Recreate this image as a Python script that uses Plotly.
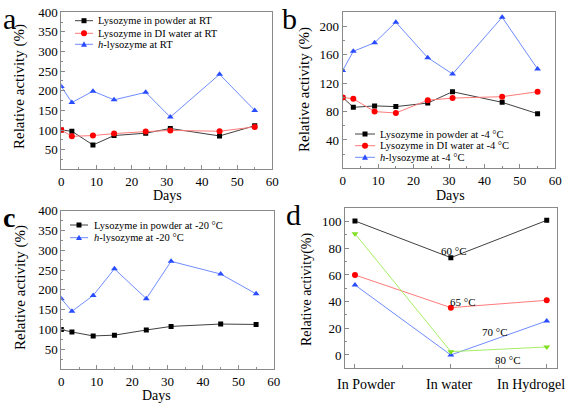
import plotly.graph_objects as go

W, H = 567, 404
SERIF = "'Liberation Serif', 'Times New Roman', Times, serif"

# ---------------- data ----------------
days = [0, 3, 9, 15, 24, 31, 45, 55]

a_names = ["Lysozyme in powder at RT", "Lysozyme in DI water at RT", "<i>h</i>-lysozyme at RT"]
a_powder = [100, 97, 62, 86, 92, 104, 85, 111]
a_water = [100, 84, 86, 91, 96, 99, 97, 108]
a_hlys = [211, 170, 199, 177, 196, 133, 242, 150]

b_names = ["Lysozyme in powder at -4 \u00b0C", "Lysozyme in DI water at -4 \u00b0C", "<i>h</i>-lysozyme at -4 \u00b0C"]
b_powder = [100, 86, 88, 87, 92, 108, 93, 77]
b_water = [100, 98, 80, 78, 96, 99, 101, 108]
b_hlys = [138, 165, 177, 206, 156, 133, 213, 140]

c_names = ["Lysozyme in powder at -20 \u00b0C", "<i>h</i>-lysozyme at -20 \u00b0C"]
c_powder = [100, 94, 84, 86, 99, 108, 114, 113]
c_hlys = [178, 146, 186, 253, 178, 272, 240, 190]

d_categories = ["In Powder", "In water", "In Hydrogel"]
d_temps = ["60 \u00b0C", "65 \u00b0C", "70 \u00b0C", "80 \u00b0C"]
d_60 = [100.5, 73, 101]
d_65 = [60, 35.5, 41]
d_70 = [52.5, 0, 25.5]
d_80 = [91, 2.5, 6]
d_label_pos = [(1.03, 78), (1.13, 40), (1.46, 17), (1.6, -4)]
d_cat_label_x = [0.114, 0.984, 1.835]

# ---------------- styles ----------------
BLK = dict(line="#404040", marker="#000000", symbol="square", size=5)
RED = dict(line="#ff7a7a", marker="#ff0000", symbol="circle", size=6)
BLU = dict(line="#6f8cff", marker="#2a4cff", symbol="triangle-up", size=6)
GRN = dict(line="#a6ee66", marker="#7fe020", symbol="triangle-down", size=6)

fig = go.Figure()


def add_series(x, y, st, xa, ya, name):
    fig.add_trace(go.Scatter(
        x=x, y=y, mode="lines+markers", name=name, showlegend=False,
        line=dict(color=st["line"], width=1),
        marker=dict(color=st["marker"], symbol=st["symbol"], size=st["size"], line=dict(width=0)),
        xaxis=xa, yaxis=ya, hoverinfo="x+y"))


add_series(days, a_powder, BLK, "x", "y", a_names[0])
add_series(days, a_water, RED, "x", "y", a_names[1])
add_series(days, a_hlys, BLU, "x", "y", a_names[2])

add_series(days, b_powder, BLK, "x2", "y2", b_names[0])
add_series(days, b_water, RED, "x2", "y2", b_names[1])
add_series(days, b_hlys, BLU, "x2", "y2", b_names[2])

add_series(days, c_powder, BLK, "x3", "y3", c_names[0])
add_series(days, c_hlys, BLU, "x3", "y3", c_names[1])

d_x = list(range(len(d_categories)))
for vals, st, nm in zip([d_60, d_65, d_70, d_80], [BLK, RED, BLU, GRN], d_temps):
    add_series(d_x, vals, st, "x4", "y4", nm)


def px_dom_x(a, b):
    return [a / W, b / W]


def px_dom_y(top, bottom):
    return [1 - bottom / H, 1 - top / H]


AX = dict(showline=True, linecolor="#8a8a8a", linewidth=1, mirror=True, automargin=False,
          ticks="inside", ticklen=4, tickcolor="#8a8a8a", showgrid=False, zeroline=False,
          tickfont=dict(family=SERIF, size=13, color="#000"))


def xdays(dom, anchor):
    return dict(AX, domain=dom, anchor=anchor, range=[0, 60], tickmode="array",
                tickvals=list(range(0, 61, 10)),
                minor=dict(ticks="inside", ticklen=2, tickcolor="#8a8a8a", dtick=5, showgrid=False))


fig.update_layout(
    width=W, height=H, margin=dict(l=0, r=0, t=0, b=0, autoexpand=False),
    paper_bgcolor="white", plot_bgcolor="white", showlegend=False,
    xaxis=xdays(px_dom_x(61.3, 272.3), "y"),
    yaxis=dict(AX, domain=px_dom_y(12.3, 169.3), anchor="x", range=[0, 400],
               tickmode="array", tickvals=list(range(50, 401, 50)),
               minor=dict(ticks="inside", ticklen=2, tickcolor="#8a8a8a", dtick=25, showgrid=False)),
    xaxis2=xdays(px_dom_x(342.7, 555.3), "y2"),
    yaxis2=dict(AX, domain=px_dom_y(12.3, 168.3), anchor="x2", range=[0, 220],
                tickmode="array", tickvals=list(range(40, 201, 40)),
                minor=dict(ticks="inside", ticklen=2, tickcolor="#8a8a8a", dtick=20, showgrid=False)),
    xaxis3=xdays(px_dom_x(61.3, 273.8), "y3"),
    yaxis3=dict(AX, domain=px_dom_y(210.5, 369.3), anchor="x3", range=[0, 400],
                tickmode="array", tickvals=list(range(50, 401, 50)),
                minor=dict(ticks="inside", ticklen=2, tickcolor="#8a8a8a", dtick=25, showgrid=False)),
    xaxis4=dict(AX, domain=px_dom_x(345, 556.7), anchor="y4", range=[-0.104, 2.104],
                tickmode="array", tickvals=d_x, showticklabels=False,
                minor=dict(ticks="inside", ticklen=3, tickcolor="#8a8a8a",
                           tickvals=[0.5, 1.5], showgrid=False)),
    yaxis4=dict(AX, domain=px_dom_y(208.3, 368.3), anchor="x4", range=[-10, 110],
                tickmode="array", tickvals=list(range(0, 101, 20)),
                minor=dict(ticks="inside", ticklen=2, tickcolor="#8a8a8a", dtick=10, showgrid=False)),
)

annotations = []
shapes = []


def ptext(text, x, y, size, angle=0, xanchor="center", yanchor="middle", bold=False):
    annotations.append(dict(text=("<b>%s</b>" % text) if bold else text, x=x / W, y=1 - y / H,
                            xref="paper", yref="paper", xanchor=xanchor, yanchor=yanchor,
                            textangle=angle, showarrow=False, borderpad=0,
                            font=dict(family=SERIF, size=size, color="#000")))


# panel letters
ptext("a", 9, 18, 30)
ptext("b", 289, 18, 30)
ptext("c", 9, 217, 28, bold=True)
ptext("d", 293, 214, 30)

# axis titles
ptext("Days", 167, 195.5, 14)
ptext("Days", 450, 195.5, 14)
ptext("Days", 156, 395, 14)
ptext("Relative activity (%)", 20, 87, 15, angle=-90)
ptext("Relative activity (%)", 305, 90, 15, angle=-90)
ptext("Relative activity (%)", 20, 288, 15, angle=-90)
ptext("Relative activity(%)", 307, 290, 14, angle=-90)

# panel d category labels (placed as in the original, shifted to fit the panel)
for cat, cx in zip(d_categories, d_cat_label_x):
    annotations.append(dict(text=cat, x=cx, y=1 - 384.5 / H, xref="x4", yref="paper",
                            xanchor="center", yanchor="middle", showarrow=False,
                            font=dict(family=SERIF, size=14, color="#000")))


# manual legends (compact, Origin-like)
def legend(names, styles, x_line0, x_line1, x_text, ys, fsize=10.5):
    for nm, st, yy in zip(names, styles, ys):
        yp = 1 - yy / H
        shapes.append(dict(type="line", xref="paper", yref="paper", x0=x_line0 / W, x1=x_line1 / W,
                           y0=yp, y1=yp, line=dict(color=st["line"], width=1)))
        cx = (x_line0 + x_line1) / 2
        r = st["size"] / 2
        if st["symbol"] == "square":
            shapes.append(dict(type="rect", xref="paper", yref="paper", x0=(cx - r) / W, x1=(cx + r) / W,
                               y0=1 - (yy + r) / H, y1=1 - (yy - r) / H, fillcolor=st["marker"],
                               line=dict(width=0)))
        elif st["symbol"] == "circle":
            shapes.append(dict(type="circle", xref="paper", yref="paper", x0=(cx - r) / W, x1=(cx + r) / W,
                               y0=1 - (yy + r) / H, y1=1 - (yy - r) / H, fillcolor=st["marker"],
                               line=dict(width=0)))
        else:
            p = "M %f %f L %f %f L %f %f Z" % ((cx - r) / W, 1 - (yy + r * 0.8) / H,
                                               (cx + r) / W, 1 - (yy + r * 0.8) / H,
                                               cx / W, 1 - (yy - r) / H)
            shapes.append(dict(type="path", xref="paper", yref="paper", path=p,
                               fillcolor=st["marker"], line=dict(width=0)))
        ptext(nm, x_text, yy, fsize, xanchor="left")


legend(a_names, [BLK, RED, BLU], 75, 93, 97, [20.7, 33.3, 44.3])
legend(b_names, [BLK, RED, BLU], 355, 375, 379, [134, 145.7, 157.3])
legend(c_names, [BLK, BLU], 70, 88, 93, [225, 237.7])

# panel d temperature labels
for t, (lx, ly) in zip(d_temps, d_label_pos):
    annotations.append(dict(text=t, x=lx, y=ly, xref="x4", yref="y4", xanchor="center", yanchor="middle",
                            showarrow=False, font=dict(family=SERIF, size=11, color="#000")))

fig.update_layout(annotations=annotations, shapes=shapes)
fig.write_html("out.html", config={"displayModeBar": False},
               post_script="document.body.style.margin='0';")
